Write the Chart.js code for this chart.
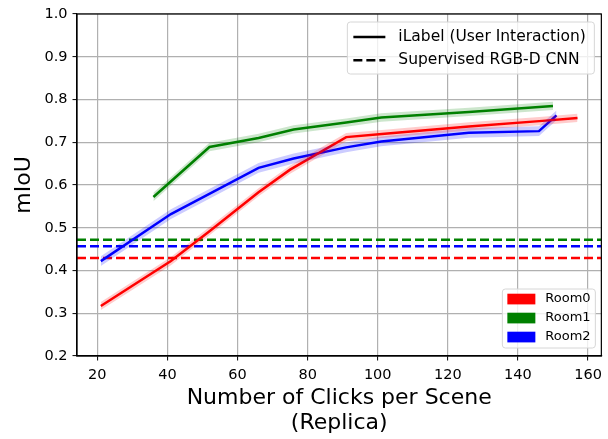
<!DOCTYPE html>
<html>
<head>
<meta charset="utf-8">
<script src="https://cdn.jsdelivr.net/npm/chart.js@4/dist/chart.umd.min.js"></script>
<style>
  html, body { margin: 0; padding: 0; background: #fff; }
  #wrap { width: 608px; height: 439px; }
</style>
</head>
<body>
<div id="wrap"><canvas id="miouChart" width="608" height="439"></canvas></div>
<script>
// clicks per scene and mIoU for each room
var room0Clicks = [21, 41, 52, 66, 75, 91, 102, 126, 147, 157];
var room0Miou   = [0.317, 0.422, 0.492, 0.583, 0.636, 0.712, 0.720, 0.737, 0.750, 0.757];
var room1Clicks = [36, 52, 66, 76, 91, 101, 126, 150];
var room1Miou   = [0.572, 0.689, 0.710, 0.730, 0.746, 0.758, 0.771, 0.785];
var room2Clicks = [21, 41, 66, 76, 91, 101, 126, 146, 151];
var room2Miou   = [0.422, 0.532, 0.640, 0.662, 0.688, 0.702, 0.722, 0.726, 0.763];

// spread of the shaded band around each curve
var roomSpread = [0.0095, 0.0098, 0.0115];

// supervised RGB-D CNN baseline per room
var cnnMiou = [0.429, 0.472, 0.457];

var roomNames  = ['Room0', 'Room1', 'Room2'];
var roomColors = ['#ff0000', '#008000', '#0000ff'];
var roomFills  = ['rgba(255,0,0,0.2)', 'rgba(0,128,0,0.2)', 'rgba(0,0,255,0.2)'];

var xTicks = [20, 40, 60, 80, 100, 120, 140, 160];
var yTicks = [0.2, 0.3, 0.4, 0.5, 0.6, 0.7, 0.8, 0.9, 1.0];
var xMin = 14.2, xMax = 163.8;

var FONT = '"DejaVu Sans", sans-serif';

function toPoints(xs, ys, shift) {
    return xs.map(function (x, i) { return {x: x, y: ys[i] + shift}; });
}

var rooms = [
    {clicks: room0Clicks, miou: room0Miou},
    {clicks: room1Clicks, miou: room1Miou},
    {clicks: room2Clicks, miou: room2Miou}
];

var datasets = [];

// shaded bands first so the lines sit on top
rooms.forEach(function (r, i) {
    datasets.push({
        data: toPoints(r.clicks, r.miou, -roomSpread[i]),
        borderWidth: 0, pointRadius: 0, fill: false
    });
    datasets.push({
        data: toPoints(r.clicks, r.miou, roomSpread[i]),
        borderWidth: 0, pointRadius: 0,
        fill: '-1', backgroundColor: roomFills[i]
    });
});

rooms.forEach(function (r, i) {
    datasets.push({
        data: toPoints(r.clicks, r.miou, 0),
        borderColor: roomColors[i], borderWidth: 2.5,
        pointRadius: 0, fill: false, tension: 0
    });
});

// horizontal baselines across the whole axis
cnnMiou.forEach(function (v, i) {
    datasets.push({
        data: [{x: xMin, y: v}, {x: xMax, y: v}],
        borderColor: roomColors[i], borderWidth: 2.5, borderDash: [9, 4],
        pointRadius: 0, fill: false
    });
});

// frame + the two legends
var extras = {
    id: 'extras',
    afterDraw: function (chart) {
        var ctx = chart.ctx;
        var a = chart.chartArea;
        ctx.save();
        ctx.strokeStyle = '#000';
        ctx.lineWidth = 1.2;
        ctx.strokeRect(a.left, a.top, a.right - a.left, a.bottom - a.top);

        // line style legend
        var bx = a.right - 254, by = a.top + 8, bw = 247, bh = 52;
        roundBox(ctx, bx, by, bw, bh);
        ctx.font = '15.5px ' + FONT;
        ctx.fillStyle = '#000';
        ctx.textBaseline = 'middle';
        var rows = [
            {text: 'iLabel (User Interaction)', dash: []},
            {text: 'Supervised RGB-D CNN', dash: [9, 4]}
        ];
        rows.forEach(function (row, k) {
            var cy = by + 15 + k * 23.3;
            ctx.beginPath();
            ctx.setLineDash(row.dash);
            ctx.lineWidth = 2.5;
            ctx.strokeStyle = '#000';
            ctx.moveTo(bx + 6, cy);
            ctx.lineTo(bx + 38, cy);
            ctx.stroke();
            ctx.setLineDash([]);
            ctx.fillText(row.text, bx + 51, cy);
        });

        // room colour legend
        var lx = a.right - 99, ly = a.bottom - 67, lw = 93, lh = 59;
        roundBox(ctx, lx, ly, lw, lh);
        ctx.font = '13px ' + FONT;
        roomNames.forEach(function (name, k) {
            var cy = ly + 10 + k * 19;
            ctx.fillStyle = roomColors[k];
            ctx.fillRect(lx + 5, cy - 5.3, 28, 10.7);
            ctx.fillStyle = '#000';
            ctx.fillText(name, lx + 43, cy);
        });
        ctx.restore();
    }
};

function roundBox(ctx, x, y, w, h) {
    ctx.beginPath();
    ctx.roundRect(x, y, w, h, 3);
    ctx.fillStyle = 'rgba(255,255,255,0.8)';
    ctx.fill();
    ctx.lineWidth = 1;
    ctx.strokeStyle = '#d6d6d6';
    ctx.stroke();
}

var ctx = document.getElementById('miouChart').getContext('2d');
var myChart = new Chart(ctx, {
    type: 'line',
    data: {datasets: datasets},
    options: {
        responsive: false,
        animation: false,
        layout: {padding: {top: 14, right: 5, left: 0, bottom: 0}},
        plugins: {
            legend: {display: false},
            tooltip: {enabled: false}
        },
        scales: {
            x: {
                type: 'linear',
                min: xMin, max: xMax,
                afterBuildTicks: function (s) { s.ticks = xTicks.map(function (v) { return {value: v}; }); },
                afterFit: function (s) { s.height = 83; },
                grid: {color: '#b0b0b0', lineWidth: 1.2, tickColor: '#000', tickLength: 4.5, tickWidth: 1},
                border: {color: '#000', width: 1.2},
                ticks: {
                    color: '#000', padding: 6, maxRotation: 0,
                    font: {family: FONT, size: 14.5},
                    callback: function (v) { return String(v); }
                },
                title: {
                    display: true,
                    text: ['Number of Clicks per Scene', '(Replica)'],
                    color: '#000',
                    font: {family: FONT, size: 22, lineHeight: 1.14},
                    padding: {top: 0, bottom: 3}
                }
            },
            y: {
                min: 0.2, max: 1.0,
                afterBuildTicks: function (s) { s.ticks = yTicks.map(function (v) { return {value: v}; }); },
                afterFit: function (s) { s.width = 77; },
                grid: {color: '#b0b0b0', lineWidth: 1.2, tickColor: '#000', tickLength: 4.5, tickWidth: 1},
                border: {color: '#000', width: 1.2},
                ticks: {
                    color: '#000', padding: 5,
                    font: {family: FONT, size: 14.5},
                    callback: function (v) { return v.toFixed(1); }
                },
                title: {
                    display: true,
                    text: 'mIoU',
                    color: '#000',
                    font: {family: FONT, size: 22, lineHeight: 1.2},
                    padding: {top: 11, bottom: 0}
                }
            }
        }
    },
    plugins: [extras]
});
</script>
</body>
</html>
